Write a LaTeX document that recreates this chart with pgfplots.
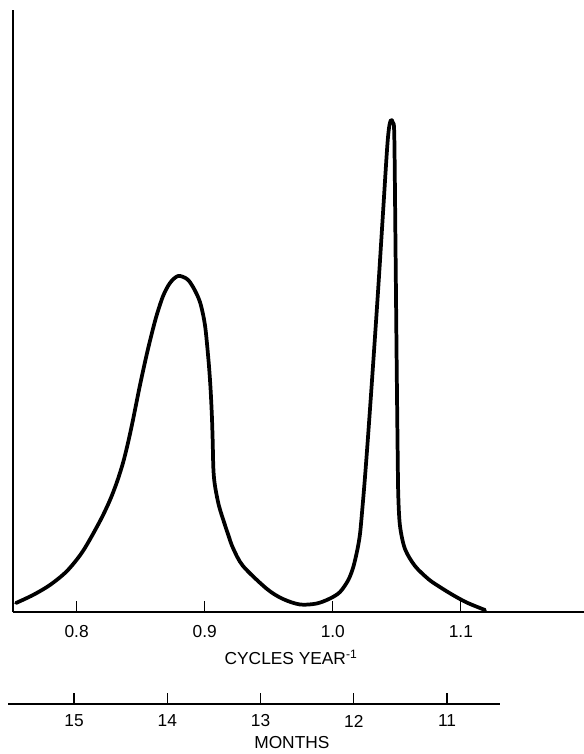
\documentclass[border=0pt]{standalone}
\usepackage{fontspec}
\setmainfont{Liberation Sans}
\usepackage{pgfplots}
\pgfplotsset{compat=1.18}
\begin{document}
\begin{tikzpicture}
\path[use as bounding box] (0pt,0pt) rectangle (438pt,565.5pt);
% main axis
\begin{axis}[
  at={(9.75pt,106.5pt)}, anchor=south west,
  scale only axis, width=428.25pt, height=451.5pt,
  xmin=0.75035, xmax=1.1961, ymin=0, ymax=602,
  axis x line*=bottom, axis y line*=left,
  axis line style={-, line width=1.1pt},
  x axis line style={line width=0.9pt},
  xtick={0.8,0.9,1.0,1.1},
  xticklabels={0.8,0.9,1.0,1.1},
  ytick=\empty,
  tick align=inside, major tick length=8pt,
  tick style={line width=0.8pt, black},
  /pgf/number format/assume math mode=true,
  xticklabel style={anchor=center, yshift=-15pt, font=\fontsize{13}{15}\selectfont},
  xlabel={CYCLES YEAR\textsuperscript{-1}},
  xlabel style={at={(axis description cs:0.487,0)}, anchor=center, yshift=-34pt, font=\fontsize{13}{15}\selectfont},
  clip=false,
]
\addplot[black, line width=2.8pt, smooth, tension=0.5, line join=round, line cap=round] coordinates {
(0.7527,9) (0.7660,17) (0.7792,27) (0.7925,41) (0.8050,61) (0.8183,91)
(0.8261,112) (0.8315,130) (0.8362,149) (0.8401,169) (0.8440,192) (0.8495,227)
(0.8550,259) (0.8596,283) (0.8628,298) (0.8675,316) (0.8729,329) (0.8792,336)
(0.8862,333) (0.8909,325) (0.8963,310) (0.9002,287) (0.90281,254) (0.90414,232)
(0.90492,215) (0.90570,193) (0.90625,170) (0.90671,145) (0.90742,132) (0.90843,123)
(0.90960,115) (0.91116,106) (0.91351,96) (0.91842,77) (0.92209,64) (0.92990,46)
(0.94863,23) (0.96113,13) (0.97440,7.5) (0.98743,8.5) (0.99782,13.5) (1.00562,20)
(1.01210,32) (1.01600,45) (1.01913,62) (1.02123,78) (1.02318,105) (1.02514,135)
(1.02771,179) (1.03138,246) (1.03528,320) (1.03919,399) (1.04231,462) (1.04387,484)
(1.04543,492) (1.04699,489) (1.04801,476) (1.04895,366) (1.04988,246) (1.05066,156)
(1.05113,116) (1.05246,86) (1.05636,63) (1.06417,46) (1.07455,33) (1.08236,26)
(1.09305,17.5) (1.10452,9.5) (1.11882,2)
};
\end{axis}
% months axis
\begin{axis}[
  at={(6pt,37.5pt)}, anchor=south west,
  scale only axis, width=369pt, height=1pt,
  x dir=reverse,
  xmin=10.432, xmax=15.708, ymin=0, ymax=1,
  axis x line*=bottom, hide y axis,
  axis line style={-, line width=0.9pt},
  xtick={11,12,13,14,15},
  tick align=inside, major tick length=8pt,
  tick style={line width=0.8pt, black},
  /pgf/number format/assume math mode=true,
  xticklabel style={anchor=center, yshift=-12.75pt, font=\fontsize{13}{15}\selectfont},
  xlabel={MONTHS},
  xlabel style={at={(axis description cs:0.577,0)}, anchor=center, yshift=-29.25pt, font=\fontsize{13}{15}\selectfont},
]
\addplot[draw=none] coordinates {(11,0) (15,0)};
\end{axis}
\end{tikzpicture}
\end{document}
